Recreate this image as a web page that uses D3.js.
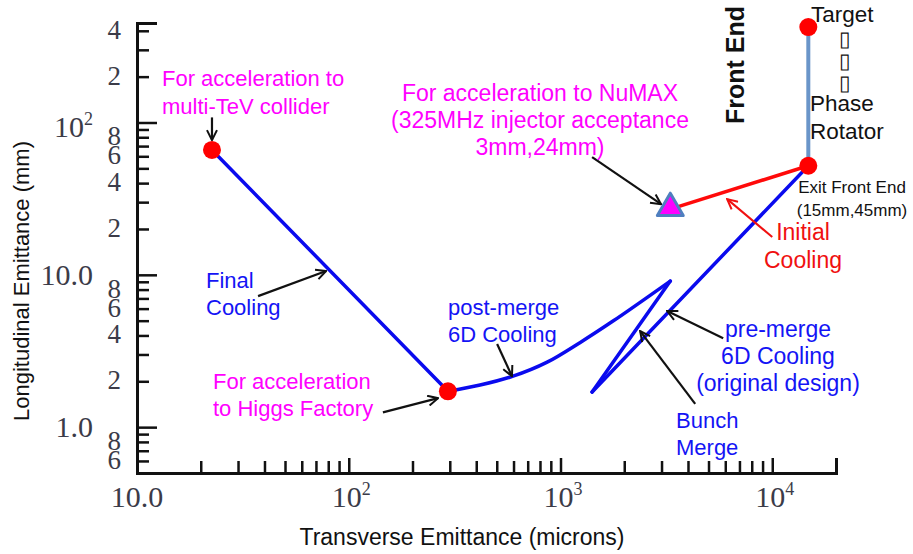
<!DOCTYPE html>
<html lang="en">
<head>
<meta charset="UTF-8">
<title>Muon cooling path</title>
<script src="https://d3js.org/d3.v7.min.js"></script>
<style>
  body { margin: 0; background: #fff; }
  svg { display: block; }
  .ann { font-family: "Liberation Sans", Arial, sans-serif; }
  .tick-lbl { font-family: "Liberation Serif", "Times New Roman", serif; fill: #3b3b48; }
</style>
</head>
<body>
<svg width="913" height="554"></svg>
<script>
// ---- data ----
const xMajor = [10, 100, 1000, 10000];
const xMajorLabels = [["10.0"], ["10", "2"], ["10", "3"], ["10", "4"]];
const yMajor = [1, 10, 100];
const yMajorLabels = [["1.0"], ["10.0"], ["10", "2"]];
const yMinorLabelled = [0.6, 0.8, 2, 4, 6, 8, 20, 40, 60, 80, 200, 400];

// cooling path (transverse microns, longitudinal mm)
const finalCooling = [[22.6, 66], [294, 1.72]];
const postMerge = [[294, 1.72], [417, 1.89], [597, 2.16], [865, 2.67], [1240, 3.6], [1770, 4.97], [3300, 9.1]];
const bunchMerge = [[3300, 9.1], [1410, 1.70]];
const preMerge = [[1410, 1.70], [14800, 52]];
const initialCooling = [[14800, 52], [3300, 27]];
const frontEnd = [[14800, 423], [14800, 52]];
const stops = [[22.6, 66], [294, 1.72], [14800, 52], [14800, 423]];
const numax = [3300, 27];

// annotation arrows [from, to] in data space
const blackArrows = [
  [[22.6, 108], [22.6, 76.6]],
  [[37.3, 7.25], [78.2, 10.6]],
  [[145, 1.25], [264, 1.55]],
  [[502, 3.51], [590, 2.16]],
  [[1410, 59.3], [2985, 29.1]],
  [[4325, 1.42], [2377, 4.27]],
  [[5865, 3.84], [3190, 5.78]]
];
const redArrows = [[[10000, 17.7], [6125, 31.4]]];

// ---- layout ----
const svg = d3.select("svg");
const x = d3.scaleLog().domain([10, 20000]).range([137, 836]);
const y = d3.scaleLog().domain([0.5, 450]).range([473, 23]);

function minorTicks(lo, hi) {
  const out = [];
  for (let d = lo; d < hi; d *= 10)
    for (let k = 2; k <= 9; k++) out.push(d * k);
  return out;
}
const xMinor = minorTicks(10, 20000).filter(v => v <= 20000);
const yMinor = minorTicks(0.1, 1000).filter(v => v >= 0.5 && v <= 450);

const defs = svg.append("defs");
[["arrBlack", "#111"], ["arrRed", "#f01010"]].forEach(([id, c]) => {
  defs.append("marker")
    .attr("id", id).attr("viewBox", "0 0 12 12")
    .attr("refX", 11).attr("refY", 6)
    .attr("markerWidth", 12).attr("markerHeight", 12)
    .attr("markerUnits", "userSpaceOnUse")
    .attr("orient", "auto")
    .append("path").attr("d", "M1,1 L11,6 L1,11")
    .attr("fill", "none").attr("stroke", c).attr("stroke-width", 2);
});

// axes
const gx = svg.append("g").attr("transform", "translate(0,473)");
gx.call(d3.axisBottom(x).tickValues(xMinor).tickSize(-12).tickFormat(""));
gx.call(g => g.append("g").call(d3.axisBottom(x).tickValues(xMajor).tickSize(-15).tickFormat("")));
gx.selectAll("path.domain").attr("stroke", "#111").attr("stroke-width", 3);
gx.selectAll(".tick line").attr("stroke", "#111").attr("stroke-width", 2.5);

const gy = svg.append("g").attr("transform", "translate(137,0)");
gy.call(d3.axisLeft(y).tickValues(yMinor).tickSize(-12).tickFormat(""));
gy.call(g => g.append("g").call(d3.axisLeft(y).tickValues(yMajor).tickSize(-20).tickFormat("")));
gy.selectAll("path.domain").attr("stroke", "#111").attr("stroke-width", 3);
gy.selectAll(".tick line").attr("stroke", "#111").attr("stroke-width", 2.5);

// tick labels
function sciLabel(sel, parts) {
  sel.append("tspan").text(parts[0]);
  if (parts[1]) sel.append("tspan").style("font-size", "18px").attr("dy", -12).text(parts[1]);
}
xMajor.forEach((v, i) => {
  const sci = !!xMajorLabels[i][1];
  const t = svg.append("text").attr("class", "tick-lbl")
    .attr("x", sci ? x(v) - 17 : x(v)).attr("y", 507)
    .style("font-size", "30px").attr("text-anchor", sci ? "start" : "middle");
  sciLabel(t, xMajorLabels[i]);
});
yMajor.forEach((v, i) => {
  const t = svg.append("text").attr("class", "tick-lbl")
    .attr("x", 93).attr("y", y(v) + 10 + (yMajorLabels[i][1] ? 5 : 0))
    .style("font-size", "30px").attr("text-anchor", "end");
  sciLabel(t, yMajorLabels[i]);
});
yMinorLabelled.forEach(v => {
  svg.append("text").attr("class", "tick-lbl")
    .attr("x", 121).attr("y", y(v) + 8)
    .style("font-size", "27px").attr("text-anchor", "end")
    .text(String(v).replace(/^0\./, "").replace(/0+$/, ""));
});

// axis titles
svg.append("text").attr("class", "ann")
  .attr("transform", "translate(29,281) rotate(-90)")
  .attr("text-anchor", "middle").style("font-size", "22px").attr("fill", "#111")
  .text("Longitudinal Emittance (mm)");
svg.append("text").attr("class", "ann")
  .attr("x", 462).attr("y", 545).attr("text-anchor", "middle")
  .style("font-size", "23px").attr("fill", "#111")
  .text("Transverse Emittance (microns)");

// paths
const line = d3.line().x(d => x(d[0])).y(d => y(d[1]));
const smooth = d3.line().x(d => x(d[0])).y(d => y(d[1])).curve(d3.curveCatmullRom);
svg.append("path").attr("d", line(frontEnd))
  .attr("stroke", "#6a95c9").attr("stroke-width", 4).attr("fill", "none");
[finalCooling, bunchMerge, preMerge].forEach(seg => {
  svg.append("path").attr("d", line(seg))
    .attr("stroke", "#0a0aee").attr("stroke-width", 3.5).attr("fill", "none")
    .attr("stroke-linecap", "round");
});
svg.append("path").attr("d", smooth(postMerge))
  .attr("stroke", "#0a0aee").attr("stroke-width", 3.5).attr("fill", "none")
  .attr("stroke-linecap", "round");
svg.append("path").attr("d", line(initialCooling))
  .attr("stroke", "#ff0a0a").attr("stroke-width", 3.5).attr("fill", "none");

svg.selectAll("circle.stop").data(stops).enter().append("circle")
  .attr("class", "stop")
  .attr("cx", d => x(d[0])).attr("cy", d => y(d[1])).attr("r", 9)
  .attr("fill", "#ff0000");

svg.append("path")
  .attr("transform", `translate(${x(numax[0])},${y(numax[1]) - 1})`)
  .attr("d", d3.symbol(d3.symbolTriangle, 290)())
  .attr("fill", "#ff00ff").attr("stroke", "#4f7fbf").attr("stroke-width", 3)
  .attr("stroke-linejoin", "round");

// arrows
blackArrows.forEach(([a, b]) => {
  svg.append("line")
    .attr("x1", x(a[0])).attr("y1", y(a[1]))
    .attr("x2", x(b[0])).attr("y2", y(b[1]))
    .attr("stroke", "#111").attr("stroke-width", 2.2)
    .attr("marker-end", "url(#arrBlack)");
});
redArrows.forEach(([a, b]) => {
  svg.append("line")
    .attr("x1", x(a[0])).attr("y1", y(a[1]))
    .attr("x2", x(b[0])).attr("y2", y(b[1]))
    .attr("stroke", "#f01010").attr("stroke-width", 2)
    .attr("marker-end", "url(#arrRed)");
});

// annotations
function label(lines, px, py, color, anchor, size, lh) {
  const t = svg.append("text").attr("class", "ann")
    .attr("x", px).attr("y", py).attr("fill", color)
    .attr("text-anchor", anchor || "start").style("font-size", (size || 22) + "px");
  lines.forEach((s, i) => t.append("tspan").attr("x", px).attr("dy", i ? (lh || 27) : 0).text(s));
}
label(["For acceleration to", "multi-TeV collider"], 162, 86, "#ff00ff", "start", 22, 28);
label(["For acceleration to NuMAX", "(325MHz injector acceptance", "3mm,24mm)"], 540, 101, "#ff00ff", "middle", 23);
label(["For acceleration", "to Higgs Factory"], 213, 389, "#ff00ff");
label(["Final", "Cooling"], 206, 288, "#1414f5");
label(["post-merge", "6D Cooling"], 448, 315, "#1414f5");
label(["pre-merge", "6D Cooling", "(original design)"], 778, 337, "#1414f5", "middle", 23);
label(["Bunch", "Merge"], 676, 428, "#1414f5");
label(["Initial", "Cooling"], 803, 240, "#f01010", "middle", 23, 28);
label(["Target"], 811, 22, "#111", "start", 22.5);
label(["Phase", "Rotator"], 810, 111, "#111", "start", 22.5, 28);
label(["Exit Front End", "(15mm,45mm)"], 852, 193, "#111", "middle", 17, 23);
label(["\u25AF", "\u25AF", "\u25AF"], 845, 46, "#111", "middle", 21, 22);

svg.append("text").attr("class", "ann")
  .attr("transform", "translate(744,65) rotate(-90)")
  .attr("text-anchor", "middle").style("font-size", "25px").attr("font-weight", "bold")
  .attr("fill", "#111").text("Front End");
</script>
</body>
</html>
